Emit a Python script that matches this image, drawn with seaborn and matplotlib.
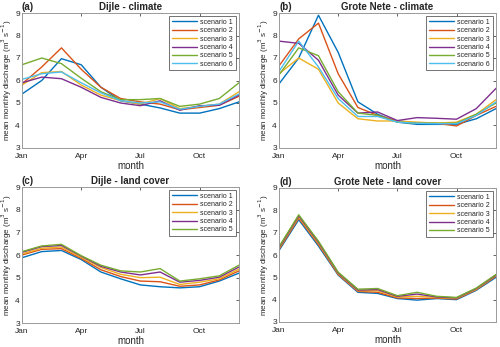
import numpy as np
import pandas as pd
import matplotlib
matplotlib.use("Agg")
import matplotlib.pyplot as plt
import seaborn as sns

months = ["Jan", "Feb", "Mar", "Apr", "May", "Jun", "Jul", "Aug", "Sep", "Oct", "Nov", "Dec"]
month_num = list(range(1, 13))
tick_pos = [1, 4, 7, 10]
tick_labels = ["Jan", "Apr", "Jul", "Oct"]

dijle_climate = {
    "scenario 1": [5.4, 6.0, 6.97, 6.7, 5.7, 5.1, 4.95, 4.78, 4.55, 4.55, 4.75, 5.05],
    "scenario 2": [5.85, 6.6, 7.45, 6.5, 5.7, 5.2, 5.05, 4.95, 4.7, 4.8, 4.9, 5.3],
    "scenario 3": [5.8, 6.35, 6.4, 5.8, 5.35, 5.1, 4.95, 5.2, 4.75, 4.85, 4.95, 5.5],
    "scenario 4": [5.9, 6.15, 6.08, 5.7, 5.25, 5.0, 4.88, 5.1, 4.68, 4.88, 4.9, 5.35],
    "scenario 5": [6.7, 7.0, 6.75, 6.1, 5.5, 5.15, 5.15, 5.2, 4.85, 4.95, 5.2, 5.9],
    "scenario 6": [6.05, 6.3, 6.38, 5.9, 5.45, 5.1, 5.0, 5.05, 4.72, 4.85, 4.95, 5.4],
}
grote_climate = {
    "scenario 1": [5.85, 7.0, 8.9, 7.25, 5.05, 4.5, 4.15, 4.05, 4.05, 4.05, 4.3, 4.75],
    "scenario 2": [6.65, 7.85, 8.55, 6.3, 4.8, 4.45, 4.2, 4.1, 4.1, 3.98, 4.45, 4.85],
    "scenario 3": [6.3, 7.0, 6.5, 5.0, 4.3, 4.2, 4.2, 4.15, 4.1, 4.15, 4.5, 5.15],
    "scenario 4": [7.75, 7.65, 6.9, 5.35, 4.55, 4.6, 4.22, 4.35, 4.32, 4.28, 4.75, 5.65],
    "scenario 5": [6.25, 7.45, 7.1, 5.5, 4.55, 4.45, 4.15, 4.1, 4.1, 4.1, 4.5, 5.0],
    "scenario 6": [6.4, 7.75, 6.6, 5.2, 4.4, 4.4, 4.15, 4.1, 4.08, 4.08, 4.45, 5.05],
}
dijle_land = {
    "scenario 1": [5.88, 6.15, 6.2, 5.8, 5.25, 4.95, 4.68, 4.6, 4.55, 4.6, 4.85, 5.2],
    "scenario 2": [6.0, 6.25, 6.28, 5.85, 5.35, 5.05, 4.85, 4.82, 4.62, 4.68, 4.9, 5.3],
    "scenario 3": [6.05, 6.3, 6.35, 5.9, 5.45, 5.15, 5.0, 5.02, 4.7, 4.8, 4.95, 5.38],
    "scenario 4": [6.12, 6.37, 6.42, 5.95, 5.5, 5.25, 5.12, 5.25, 4.8, 4.88, 5.02, 5.47],
    "scenario 5": [6.15, 6.4, 6.47, 5.97, 5.55, 5.3, 5.25, 5.4, 4.85, 4.95, 5.08, 5.55],
}
grote_land = {
    "scenario 1": [6.2, 7.58, 6.4, 5.1, 4.33, 4.28, 4.05, 3.98, 4.05, 4.0, 4.42, 5.0],
    "scenario 2": [6.25, 7.65, 6.47, 5.13, 4.37, 4.33, 4.08, 4.05, 4.07, 4.03, 4.45, 5.05],
    "scenario 3": [6.3, 7.7, 6.52, 5.17, 4.4, 4.4, 4.12, 4.15, 4.1, 4.06, 4.47, 5.08],
    "scenario 4": [6.33, 7.75, 6.57, 5.2, 4.43, 4.45, 4.15, 4.25, 4.12, 4.08, 4.5, 5.1],
    "scenario 5": [6.37, 7.8, 6.62, 5.23, 4.47, 4.5, 4.18, 4.33, 4.15, 4.1, 4.52, 5.13],
}

panels = [
    ("(a)", "Dijle - climate", dijle_climate),
    ("(b)", "Grote Nete - climate", grote_climate),
    ("(c)", "Dijle - land cover", dijle_land),
    ("(d)", "Grote Nete - land cover", grote_land),
]

colors = ["#0072BD", "#D95319", "#EDB120", "#7E2F8E", "#77AC30", "#4DBEEE"]

sns.set_style("white")
plt.rcParams["font.family"] = ["Liberation Sans", "DejaVu Sans"]

fig = plt.figure(figsize=(5.0, 3.47), dpi=100)
W, H = 500, 347
boxes = [(22, 13, 239, 148), (279, 13, 496, 148), (22, 187, 239, 323), (279, 188, 496, 322)]

for (lab, title, data), (x0, y0, x1, y1) in zip(panels, boxes):
    ax = fig.add_axes([x0 / W, 1 - y1 / H, (x1 - x0) / W, (y1 - y0) / H])
    rows = []
    for name, vals in data.items():
        for m, v in zip(month_num, vals):
            rows.append({"month": m, "Q": v, "scenario": name})
    df = pd.DataFrame(rows)
    n = len(data)
    sns.lineplot(data=df, x="month", y="Q", hue="scenario", palette=colors[:n],
                 ax=ax, linewidth=1.0, sort=False)
    ax.set_xlim(1, 12)
    ax.set_ylim(3, 9)
    ax.set_xticks(tick_pos)
    ax.set_xticklabels(tick_labels)
    ax.set_yticks(range(3, 10))
    ax.tick_params(direction="in", length=2, width=0.5, colors="#262626",
                   labelsize=6, top=True, right=True)
    ax.tick_params(axis="x", pad=3.5)
    ax.tick_params(axis="y", pad=1.5)
    for s in ax.spines.values():
        s.set_color("#9a9a9a")
        s.set_linewidth(0.7)
    ax.set_xlabel("month", fontsize=7, labelpad=1, color="#262626")
    ax.set_ylabel("mean monthly discharge (m$^3$ s$^{-1}$)", fontsize=5.8,
                  labelpad=1, color="#262626")
    ax.set_title(title, fontsize=7, fontweight="bold", pad=2)
    ax.text(0.0, 1.01, lab, transform=ax.transAxes, fontsize=7,
            fontweight="bold", ha="left", va="bottom")
    leg = ax.legend(loc="upper right", fontsize=5, frameon=True, fancybox=False,
                    handlelength=3.6, handletextpad=0.5, borderpad=0.35,
                    labelspacing=0.2, borderaxespad=0.5)
    leg.get_frame().set_edgecolor("#333333")
    leg.get_frame().set_linewidth(0.6)
    for t in leg.get_texts():
        t.set_color("#262626")

fig.savefig("out.png", dpi=100)
